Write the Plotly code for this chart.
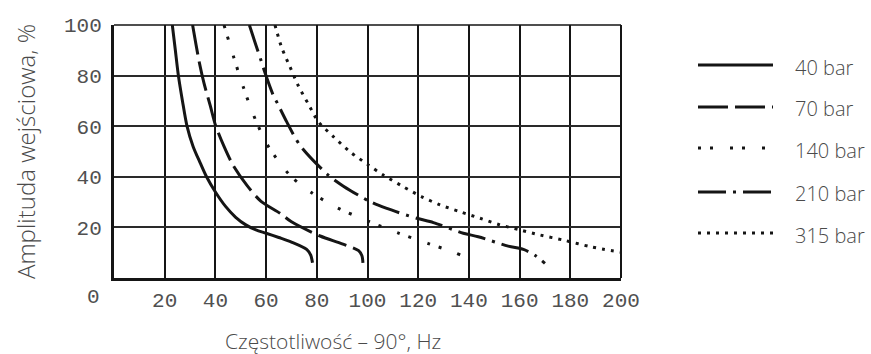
import plotly.graph_objects as go

# Frequency (Hz) vs. input amplitude (%) for each supply pressure
freq_40 = [23, 24.2, 25.4, 27, 28.8, 31.2, 34, 36.5, 40, 44, 48, 52, 56, 60, 65, 70, 76, 77.6, 78.3]
amp_40 = [100, 90, 80, 70, 60, 52, 45.5, 40, 34, 28.3, 24, 21, 19, 17.7, 16, 14.2, 11.3, 9, 6]

freq_70 = [31, 32.4, 33.7, 35.5, 38, 40, 43.4, 47, 52.6, 58, 65.5, 70, 81.3, 90, 96.5, 97.8, 98.2]
amp_70 = [100, 92, 85, 77, 68, 60.5, 52, 44.5, 36.4, 30.3, 25.6, 22.2, 16.6, 13.5, 10.8, 8.8, 6]

freq_140 = [43.4, 47, 51, 55, 60, 65, 70, 78, 88, 100, 112, 124, 134, 140]
amp_140 = [100, 88, 75.5, 64.5, 53.5, 46, 40, 33.7, 27.8, 22.6, 17.8, 13.6, 10.2, 7.6]

freq_210 = [53.4, 56, 58, 59.6, 62.8, 64.8, 68.1, 73.4, 84.5, 90.5, 101, 107.6, 119.4, 126, 137.8, 143.7, 155.5, 161.5, 166, 170]
amp_210 = [100, 92, 86, 81, 72.3, 68.4, 61.8, 52.4, 40.7, 36.3, 30.2, 27.5, 23.6, 21.9, 17.7, 16.3, 12.6, 11.3, 9, 5.8]

freq_315 = [63.5, 66.1, 69.4, 72.7, 76.7, 80.6, 86.5, 93.1, 100.3, 106.2, 114.1, 121.4, 128.6, 136.5, 144.4, 152.3, 160.2, 168, 177.2, 187.8, 200]
amp_315 = [100, 91.2, 83.5, 76, 68.7, 61.8, 55.9, 49.9, 44.7, 40.7, 36.1, 32.1, 28.9, 26.2, 23.6, 21, 19, 17, 15, 12.4, 10.2]

series_names = ["40 bar", "70 bar", "140 bar", "210 bar", "315 bar"]
series_freq = [freq_40, freq_70, freq_140, freq_210, freq_315]
series_amp = [amp_40, amp_70, amp_140, amp_210, amp_315]

x_ticks = [20, 40, 60, 80, 100, 120, 140, 160, 180, 200]
y_ticks = [20, 40, 60, 80, 100]

# line styles per series
dashes = ["solid", "30px,7px", "3px,9px,3px,17px", "28px,7px,3px,7px", "3px,6px"]
ink = "#151515"
text_col = "#4a4a4a"
tick_font = dict(family="Liberation Mono", size=21, color="#505050")
label_font = "Open Sans"

W, H = 871, 354
L, R, T, B = 114, 621, 25, 278  # plot area in px


def px_x(px):
    return (px - L) / (R - L)


def px_y(py):
    return (B - py) / (B - T)


fig = go.Figure()
for name, fx, ay, dash in zip(series_names, series_freq, series_amp, dashes):
    fig.add_trace(go.Scatter(
        x=fx, y=ay, mode="lines", name=name, showlegend=False,
        line=dict(color=ink, width=3, dash=dash, shape="spline", smoothing=0.8),
    ))

shapes = [
    # frame: top and right edges
    dict(type="line", xref="paper", yref="paper", x0=0, x1=1, y0=1, y1=1,
         line=dict(color=ink, width=1.5)),
    dict(type="line", xref="paper", yref="paper", x0=1, x1=1, y0=0, y1=1,
         line=dict(color=ink, width=2)),
]
annotations = [
    dict(text="0", xref="paper", yref="paper", x=px_x(93), y=px_y(297),
         xanchor="center", yanchor="middle", showarrow=False, font=tick_font),
    dict(text="Częstotliwość – 90°, Hz", xref="paper", yref="paper",
         x=px_x(333), y=px_y(341), xanchor="center", yanchor="middle", showarrow=False,
         font=dict(family=label_font, size=21, color=text_col, weight=300)),
]

# key: sample line + label for each pressure
row_px = [65, 107, 148, 192, 233]
for name, dash, ry in zip(series_names, dashes, row_px):
    shapes.append(dict(type="line", xref="paper", yref="paper",
                       x0=px_x(698), x1=px_x(773), y0=px_y(ry), y1=px_y(ry),
                       line=dict(color=ink, width=3, dash=dash)))
    annotations.append(dict(text=name, xref="paper", yref="paper",
                            x=px_x(793), y=px_y(ry + 2), xanchor="left", yanchor="middle",
                            showarrow=False,
                            font=dict(family=label_font, size=20, color=text_col, weight=300)))

fig.update_layout(
    width=W, height=H,
    margin=dict(l=L, r=W - R, t=T, b=H - B),
    paper_bgcolor="white", plot_bgcolor="white",
    shapes=shapes, annotations=annotations,
    xaxis=dict(range=[0, 200], tickvals=x_ticks, ticktext=[str(v) for v in x_ticks],
               showgrid=True, gridcolor=ink, gridwidth=2, zeroline=False,
               showline=True, linecolor=ink, linewidth=3, ticks="",
               ticklabelstandoff=1, tickfont=tick_font),
    yaxis=dict(range=[0, 100], tickvals=y_ticks, ticktext=[str(v) for v in y_ticks],
               showgrid=True, gridcolor="#2a2a2a", gridwidth=1.5, zeroline=False,
               showline=True, linecolor=ink, linewidth=3, ticks="",
               ticklabelstandoff=5, tickfont=tick_font,
               title=dict(text="Amplituda wejściowa, %", standoff=22,
                          font=dict(family=label_font, size=24, color=text_col, weight=300))),
)

fig.write_html("out.html")
